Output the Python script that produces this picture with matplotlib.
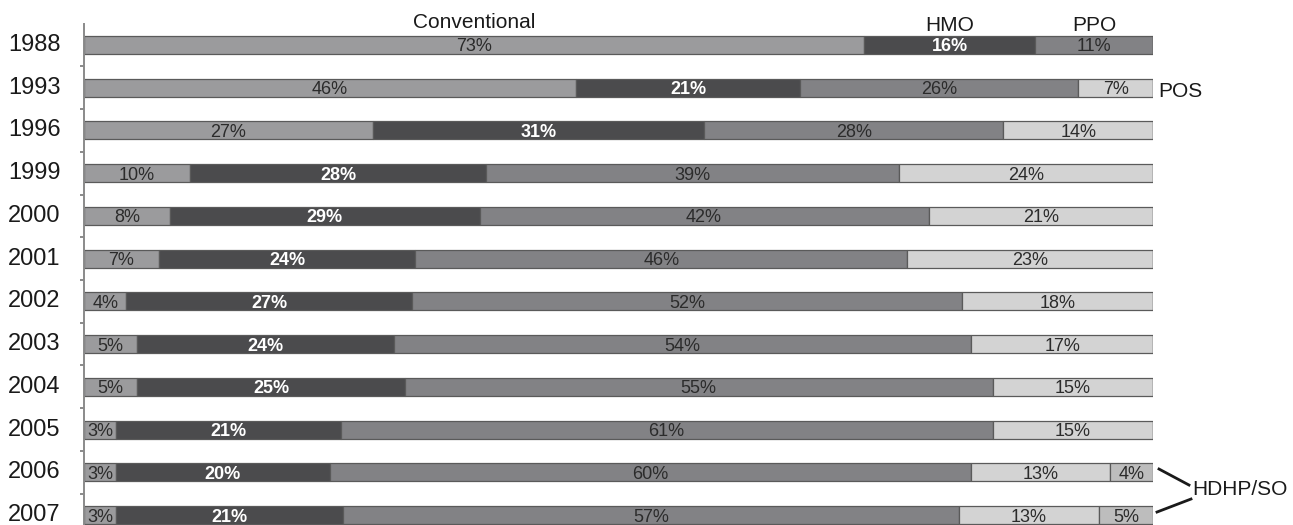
import matplotlib
matplotlib.use("Agg")
import matplotlib.pyplot as plt
import numpy as np

plt.rcParams['font.family'] = ['Liberation Sans', 'DejaVu Sans']

years = ["1988", "1993", "1996", "1999", "2000", "2001", "2002",
         "2003", "2004", "2005", "2006", "2007"]
conventional = [73, 46, 27, 10, 8, 7, 4, 5, 5, 3, 3, 3]
hmo = [16, 21, 31, 28, 29, 24, 27, 24, 25, 21, 20, 21]
ppo = [11, 26, 28, 39, 42, 46, 52, 54, 55, 61, 60, 57]
pos = [0, 7, 14, 24, 21, 23, 18, 17, 15, 15, 13, 13]
hdhp = [0, 0, 0, 0, 0, 0, 0, 0, 0, 0, 4, 5]

series = [
    ("Conventional", conventional, "#9b9b9d", "#2b2b2b", "normal"),
    ("HMO", hmo, "#4b4b4d", "white", "bold"),
    ("PPO", ppo, "#828285", "#2b2b2b", "normal"),
    ("POS", pos, "#d3d3d3", "#2b2b2b", "normal"),
    ("HDHP/SO", hdhp, "#bdbdbd", "#2b2b2b", "normal"),
]

W, H = 1293, 525
fig = plt.figure(figsize=(W / 100, H / 100), dpi=100)
x0, x1 = 84, 1153
ytop, ybot = 23.6, 536.4
ax = fig.add_axes([x0 / W, 1 - ybot / H, (x1 - x0) / W, (ybot - ytop) / H])

data = np.array([s[1] for s in series], dtype=float)
totals = data.sum(axis=0)
norm = data / totals * 100
y = np.arange(len(years))
left = np.zeros(len(years))
for (name, vals, color, tcolor, weight), nv in zip(series, norm):
    ax.barh(y, nv, left=left, height=0.42, color=color,
            edgecolor="#5a5a5a", linewidth=0.9)
    for i, (v, raw) in enumerate(zip(nv, vals)):
        if raw > 0:
            ax.text(left[i] + v / 2, y[i], f"{raw}%", ha="center",
                    va="center_baseline", fontsize=13, color=tcolor,
                    fontweight=weight)
    left += nv

ax.set_xlim(0, 100)
ax.set_ylim(len(years) - 0.5, -0.5)
ax.set_yticks(y)
ax.set_yticklabels(years, fontsize=17, color="#1a1a1a")
for lbl in ax.get_yticklabels():
    lbl.set_verticalalignment("center")
ax.set_yticks(np.arange(len(years) - 1) + 0.5, minor=True)
ax.tick_params(axis="y", which="major", length=0, pad=17)
ax.tick_params(axis="y", which="minor", length=3, width=1.2, color="#777777")
ax.set_xticks([])
for s in ["top", "right", "bottom"]:
    ax.spines[s].set_visible(False)
ax.spines["left"].set_color("#8a8a8a")
ax.spines["left"].set_linewidth(1.4)


def px(xp, yp):
    return (xp - x0) / (x1 - x0) * 100, (yp - 45) / ((515 - 45) / 11)


tc = "#1a1a1a"
ax.text(conventional[0] / 2, px(0, 28)[1], "Conventional", ha="center",
        va="baseline", fontsize=15, color=tc, clip_on=False)
ax.text(conventional[0] + hmo[0] / 2, px(0, 31)[1], "HMO", ha="center",
        va="baseline", fontsize=15, color=tc, clip_on=False)
ax.text(conventional[0] + hmo[0] + ppo[0] / 2, px(0, 31)[1], "PPO",
        ha="center", va="baseline", fontsize=15, color=tc, clip_on=False)
ax.text(*px(1158, 97), "POS", ha="left", va="baseline", fontsize=15,
        color=tc, clip_on=False)
ax.text(*px(1192, 495), "HDHP/SO", ha="left", va="baseline", fontsize=15,
        color=tc, clip_on=False)
for (a, b) in [((1159, 469), (1189, 485)), ((1157, 512), (1191, 499))]:
    pa, pb = px(*a), px(*b)
    ax.plot([pa[0], pb[0]], [pa[1], pb[1]], color="#1a1a1a", lw=2,
            clip_on=False)

fig.savefig("out.png", dpi=100)
